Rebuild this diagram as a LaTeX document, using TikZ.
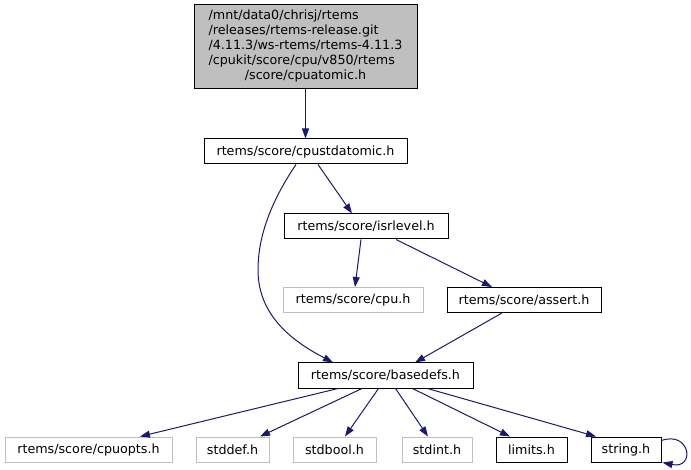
\documentclass[tikz,border=0pt]{standalone}
\usepackage{fontspec}
\setmainfont{DejaVu Sans}
\usetikzlibrary{arrows.meta}
\definecolor{edgec}{HTML}{191970}
\definecolor{grayc}{HTML}{BFBFBF}
\begin{document}
\begin{tikzpicture}[x=1pt,y=-1pt,
 box/.style={draw=black,line width=1pt,inner sep=0pt,minimum height=25pt,font=\fontsize{12.7}{15}\selectfont},
 gbox/.style={box,draw=grayc},
 edge/.style={draw=edgec,line width=1pt,-{Triangle[length=10pt,width=7pt]}}]
\useasboundingbox (0,0) rectangle (691,470);
\node[box,fill=grayc,minimum width=223pt,minimum height=84pt] (top) at (305.5,47)
 {\begin{tabular}{@{}l@{}}/mnt/data0/chrisj/rtems\\/releases/rtems-release.git\\/4.11.3/ws-rtems/rtems-4.11.3\\/cpukit/score/cpu/v850/rtems\\\multicolumn{1}{@{}c@{}}{/score/cpuatomic.h}\end{tabular}};
\node[box,minimum width=203pt] (cpustd) at (305.5,151.5) {rtems/score/cpustdatomic.h};
\node[box,minimum width=164pt] (isr) at (366,226.5) {rtems/score/isrlevel.h};
\node[gbox,minimum width=140pt] (cpu) at (353,300) {rtems/score/cpu.h};
\node[box,minimum width=154pt] (assert) at (524,300) {rtems/score/assert.h};
\node[box,minimum width=175pt] (base) at (385.5,375.5) {rtems/score/basedefs.h};
\node[gbox,minimum width=167pt] (cpuopts) at (88.5,449.5) {rtems/score/cpuopts.h};
\node[gbox,minimum width=73pt] (stddef) at (232.5,449.5) {stddef.h};
\node[gbox,minimum width=83pt] (stdbool) at (334.5,449.5) {stdbool.h};
\node[gbox,minimum width=70pt] (stdint) at (437,449.5) {stdint.h};
\node[box,minimum width=71pt] (limits) at (531.5,449.5) {limits.h};
\node[box,minimum width=70pt] (string) at (626,449.5) {string.h};

\draw[edge] (top.south) -- (cpustd.north);
\draw[edge] ([xshift=12.5pt]cpustd.south) -- ([xshift=-14pt]isr.north);
\draw[edge] ([xshift=-9.5pt]cpustd.south) .. controls (272,200) and (258,235) .. (258,270)
  .. controls (258,320) and (300,345) .. ([xshift=-52.5pt]base.north);
\draw[edge] ([xshift=-5pt]isr.south) -- ([xshift=2pt]cpu.north);
\draw[edge] ([xshift=30pt]isr.south) -- ([xshift=-32pt]assert.north);
\draw[edge] ([xshift=-22pt]assert.south) -- ([xshift=29.5pt]base.north);
\draw[edge] ([xshift=-47.5pt]base.south) -- ([xshift=51.5pt]cpuopts.north);
\draw[edge] ([xshift=-23.5pt]base.south) -- ([xshift=27.5pt]stddef.north);
\draw[edge] ([xshift=-7pt]base.south) -- ([xshift=10.5pt]stdbool.north);
\draw[edge] ([xshift=10pt]base.south) -- ([xshift=-9pt]stdint.north);
\draw[edge] ([xshift=27pt]base.south) -- ([xshift=-21.5pt]limits.north);
\draw[edge] ([xshift=42pt]base.south) -- ([xshift=-30pt]string.north);
\draw[edge] ([yshift=-4pt]string.north east) .. controls +(29,-10) and +(33,7) .. ([xshift=1pt]string.south east);
\end{tikzpicture}
\end{document}
